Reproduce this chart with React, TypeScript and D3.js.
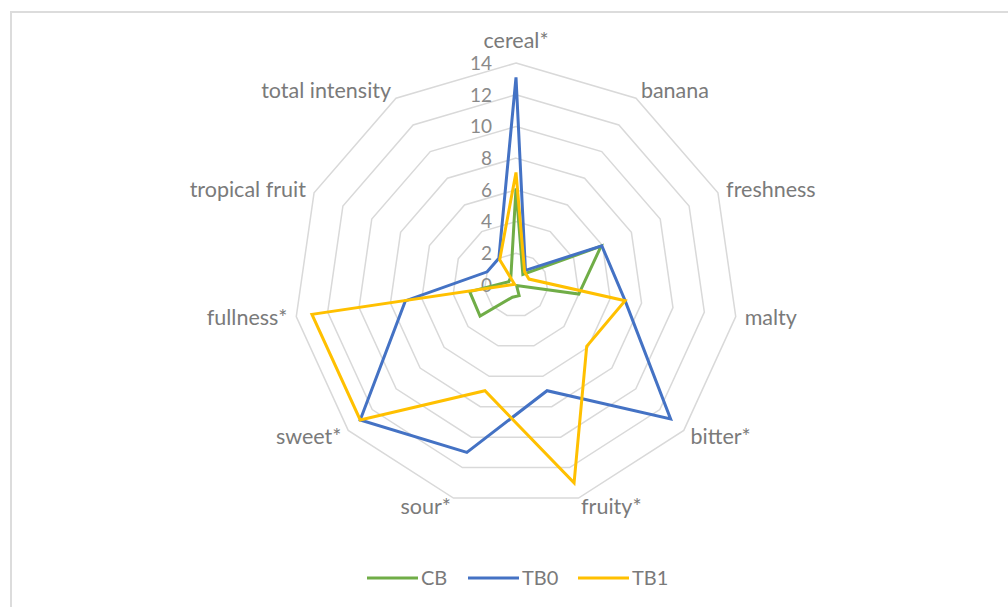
import * as d3 from "d3";

const CATEGORIES = [
  "cereal*",
  "banana",
  "freshness",
  "malty",
  "bitter*",
  "fruity*",
  "sour*",
  "sweet*",
  "fullness*",
  "tropical fruit",
  "total intensity",
];
const CB = [6.1, 0.8, 5.9, 4.0, 0.05, 0.7, 0.8, 3.0, 2.95, 0.5, 0.6];
const TB0 = [13.1, 1.1, 5.95, 6.95, 12.9, 6.95, 11.0, 13.0, 7.05, 2.0, 2.0];
const TB1 = [7.1, 1.0, 0.9, 6.95, 5.9, 13.0, 6.95, 13.0, 13.0, 0.1, 1.9];
const TICKS = [0, 2, 4, 6, 8, 10, 12, 14];

const SERIES = [
  { name: "CB", values: CB, color: "#70ad47" },
  { name: "TB0", values: TB0, color: "#4472c4" },
  { name: "TB1", values: TB1, color: "#ffc000" },
];

const WIDTH = 1008;
const HEIGHT = 607;
const CX = 516;
const CY = 285;
const R = 222;
const FONT = "Lato, 'Open Sans', sans-serif";
const TEXT = "#7a7a7a";

export default function App() {
  const r = d3.scaleLinear().domain([0, 14]).range([0, R]);
  const angle = (i: number) => (i * 2 * Math.PI) / CATEGORIES.length;

  const radial = d3
    .lineRadial<number>()
    .angle((_, i) => angle(i))
    .radius((d) => r(d))
    .curve(d3.curveLinearClosed);

  const grid = TICKS.filter((t) => t > 0);

  // legend layout
  const legendY = 578;
  const legendX = [367, 468, 578];

  return (
    <svg
      width={WIDTH}
      height={HEIGHT}
      viewBox={`0 0 ${WIDTH} ${HEIGHT}`}
      style={{ position: "absolute", left: 0, top: 0, background: "#fff" }}
      fontFamily={FONT}
    >
      <rect x={11} y={12} width={1100} height={700} fill="none" stroke="#dcdcdc" strokeWidth={2} />
      <g transform={`translate(${CX},${CY})`}>
        {grid.map((t) => (
          <path
            key={t}
            d={radial(CATEGORIES.map(() => t)) ?? ""}
            fill="none"
            stroke="#d9d9d9"
            strokeWidth={1.5}
          />
        ))}
        {TICKS.map((t) => (
          <text
            key={t}
            x={-24}
            y={-r(t)}
            dy="0.36em"
            textAnchor="end"
            fontSize={19}
            fill="#8a8a8a"
          >
            {t}
          </text>
        ))}
        {CATEGORIES.map((c, i) => {
          const a = angle(i);
          const s = Math.sin(a);
          const dist = i === 0 ? R + 23 : R + 9;
          const x = dist * s;
          const y = -dist * Math.cos(a);
          const anchor = Math.abs(s) < 0.01 ? "middle" : s > 0 ? "start" : "end";
          return (
            <text
              key={c}
              x={x}
              y={y}
              dy="0.35em"
              textAnchor={anchor}
              fontSize={21.5}
              fill={TEXT}
            >
              {c}
            </text>
          );
        })}
        {SERIES.map((s) => (
          <path
            key={s.name}
            d={radial(s.values) ?? ""}
            fill="none"
            stroke={s.color}
            strokeWidth={3}
            strokeLinejoin="miter"
          />
        ))}
      </g>
      {SERIES.map((s, i) => (
        <g key={s.name} transform={`translate(${legendX[i]},${legendY})`}>
          <line x1={0} x2={51} y1={0} y2={0} stroke={s.color} strokeWidth={3} />
          <text x={54} y={0} dy="0.36em" fontSize={20} fill={TEXT}>
            {s.name}
          </text>
        </g>
      ))}
    </svg>
  );
}
